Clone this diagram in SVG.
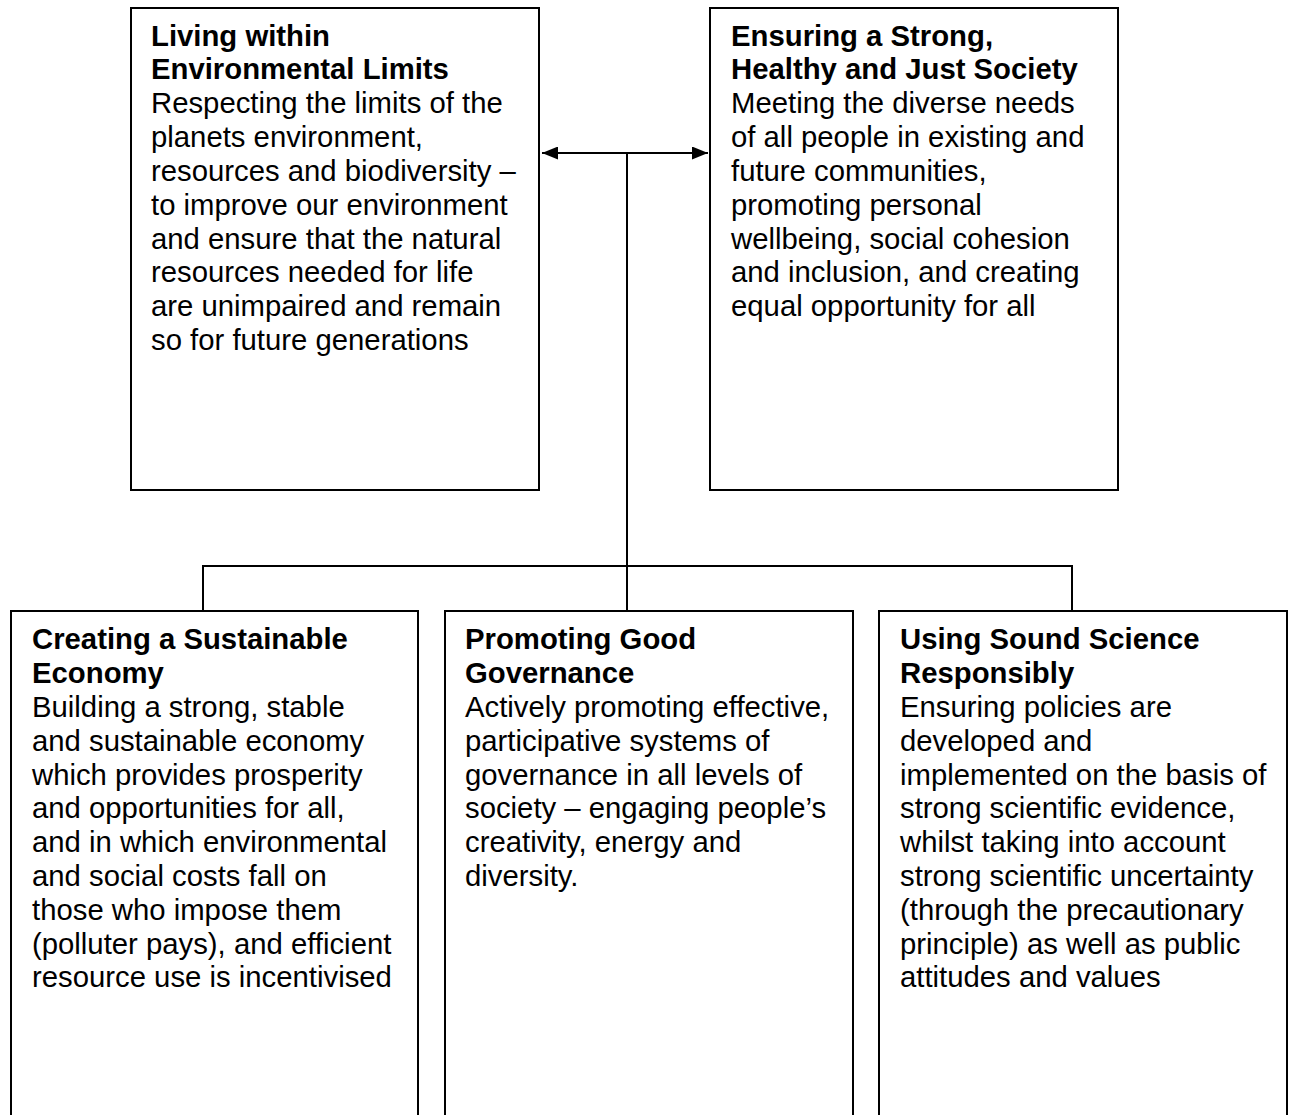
<svg xmlns="http://www.w3.org/2000/svg" width="1292" height="1115" viewBox="0 0 1292 1115">
<style>
.box{fill:#fff;stroke:#000;stroke-width:2}
.t{font-family:"Liberation Sans",Arial,sans-serif;font-size:29.3px;fill:#000}
.b{font-weight:bold}
.c{fill:none;stroke:#000;stroke-width:2}
</style>
<defs>
<marker id="ah" viewBox="0 0 16 13" refX="16" refY="6.5" markerWidth="16" markerHeight="13" markerUnits="userSpaceOnUse" orient="auto-start-reverse">
<path d="M0,0 L16,6.5 L0,13 z" fill="#000"/>
</marker>
</defs>
<rect width="1292" height="1115" fill="#fff"/>
<g id="connectors">
<line class="c" x1="542" y1="153" x2="708" y2="153" marker-start="url(#ah)" marker-end="url(#ah)"/>
<line class="c" x1="627" y1="153" x2="627" y2="611"/>
<polyline class="c" points="203,611 203,566 1072,566 1072,611"/>
</g>
<g id="env">
<rect class="box" x="131" y="8" width="408" height="482"/>
<text class="t"><tspan class="b" x="151" y="46">Living within</tspan><tspan class="b" x="151" y="79">Environmental Limits</tspan><tspan x="151" y="113">Respecting the limits of the</tspan><tspan x="151" y="147">planets environment,</tspan><tspan x="151" y="181">resources and biodiversity –</tspan><tspan x="151" y="215">to improve our environment</tspan><tspan x="151" y="249">and ensure that the natural</tspan><tspan x="151" y="282">resources needed for life</tspan><tspan x="151" y="316">are unimpaired and remain</tspan><tspan x="151" y="350">so for future generations</tspan></text>
</g>
<g id="society">
<rect class="box" x="710" y="8" width="408" height="482"/>
<text class="t"><tspan class="b" x="731" y="46">Ensuring a Strong,</tspan><tspan class="b" x="731" y="79">Healthy and Just Society</tspan><tspan x="731" y="113">Meeting the diverse needs</tspan><tspan x="731" y="147">of all people in existing and</tspan><tspan x="731" y="181">future communities,</tspan><tspan x="731" y="215">promoting personal</tspan><tspan x="731" y="249">wellbeing, social cohesion</tspan><tspan x="731" y="282">and inclusion, and creating</tspan><tspan x="731" y="316">equal opportunity for all</tspan></text>
</g>
<g id="economy">
<rect class="box" x="11" y="611" width="407" height="520"/>
<text class="t"><tspan class="b" x="32" y="649">Creating a Sustainable</tspan><tspan class="b" x="32" y="683">Economy</tspan><tspan x="32" y="717">Building a strong, stable</tspan><tspan x="32" y="751">and sustainable economy</tspan><tspan x="32" y="785">which provides prosperity</tspan><tspan x="32" y="818">and opportunities for all,</tspan><tspan x="32" y="852">and in which environmental</tspan><tspan x="32" y="886">and social costs fall on</tspan><tspan x="32" y="920">those who impose them</tspan><tspan x="32" y="954">(polluter pays), and efficient</tspan><tspan x="32" y="987">resource use is incentivised</tspan></text>
</g>
<g id="governance">
<rect class="box" x="445" y="611" width="408" height="520"/>
<text class="t"><tspan class="b" x="465" y="649">Promoting Good</tspan><tspan class="b" x="465" y="683">Governance</tspan><tspan x="465" y="717">Actively promoting effective,</tspan><tspan x="465" y="751">participative systems of</tspan><tspan x="465" y="785">governance in all levels of</tspan><tspan x="465" y="818">society – engaging people’s</tspan><tspan x="465" y="852">creativity, energy and</tspan><tspan x="465" y="886">diversity.</tspan></text>
</g>
<g id="science">
<rect class="box" x="879" y="611" width="408" height="520"/>
<text class="t"><tspan class="b" x="900" y="649">Using Sound Science</tspan><tspan class="b" x="900" y="683">Responsibly</tspan><tspan x="900" y="717">Ensuring policies are</tspan><tspan x="900" y="751">developed and</tspan><tspan x="900" y="785">implemented on the basis of</tspan><tspan x="900" y="818">strong scientific evidence,</tspan><tspan x="900" y="852">whilst taking into account</tspan><tspan x="900" y="886">strong scientific uncertainty</tspan><tspan x="900" y="920">(through the precautionary</tspan><tspan x="900" y="954">principle) as well as public</tspan><tspan x="900" y="987">attitudes and values</tspan></text>
</g>
</svg>
